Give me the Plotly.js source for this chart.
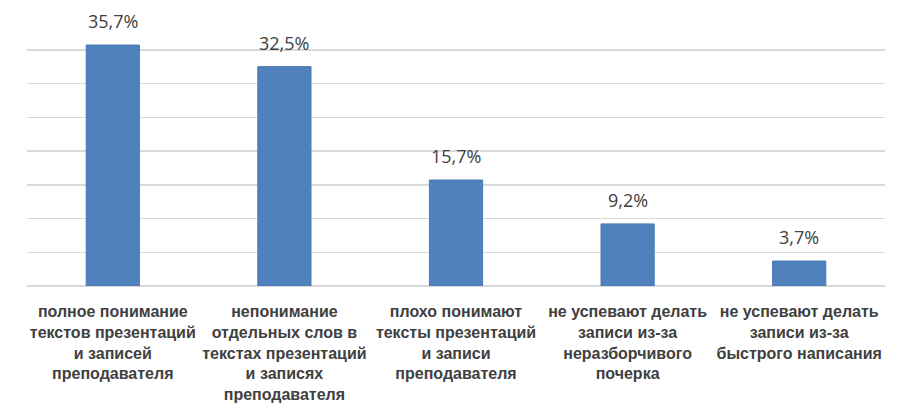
<!DOCTYPE html>
<html>
<head>
<meta charset="utf-8">
<script src="https://cdn.plot.ly/plotly-3.0.1.min.js"></script>
<style>
  body { margin: 0; background: #fff; }
  #chart { width: 903px; height: 410px; }
</style>
</head>
<body>
<div id="chart"></div>
<script>
var categories = [
    "полное понимание<br>текстов презентаций<br>и записей<br>преподавателя",
    "непонимание<br>отдельных слов в<br>текстах презентаций<br>и записях<br>преподавателя",
    "плохо понимают<br>тексты презентаций<br>и записи<br>преподавателя",
    "не успевают делать<br>записи из-за<br>неразборчивого<br>почерка",
    "не успевают делать<br>записи из-за<br>быстрого написания"
];
var shares = [35.7, 32.5, 15.7, 9.2, 3.7];

var labelFont = "Liberation Sans Narrow, Arial Narrow, sans-serif";

var data = [{
    type: "bar",
    x: categories,
    y: shares,
    marker: { color: "#4f81bd", line: { color: "#4a7ab5", width: 1 } },
    hoverinfo: "skip"
}];

// value labels above bars, lifted a little like the original
var valueLabels = categories.map(function (c, i) {
    return {
        x: c,
        y: shares[i],
        text: shares[i].toFixed(1).replace(".", ",") + "%",
        showarrow: false,
        yanchor: "bottom",
        yshift: 10,
        font: { size: 18, color: "#404040", family: "Open Sans, sans-serif" }
    };
});

var layout = {
    width: 903,
    height: 410,
    margin: { t: 16, b: 124, l: 27, r: 18 },
    bargap: 0.69,
    paper_bgcolor: "#fff",
    plot_bgcolor: "#fff",
    showlegend: false,
    font: { family: labelFont, color: "#404040" },
    annotations: valueLabels,
    xaxis: {
        tickfont: { size: 16, color: "#404040", family: labelFont, weight: "bold" },
        showline: false,
        ticks: "",
        ticklabelstandoff: 14
    },
    yaxis: {
        range: [0, 40],
        dtick: 5,
        showticklabels: false,
        gridcolor: "#d9d9d9",
        gridwidth: 1.5,
        zeroline: true,
        zerolinecolor: "#d9d9d9",
        zerolinewidth: 1.5
    }
};

Plotly.newPlot("chart", data, layout, { displayModeBar: false, staticPlot: true });
</script>
</body>
</html>
